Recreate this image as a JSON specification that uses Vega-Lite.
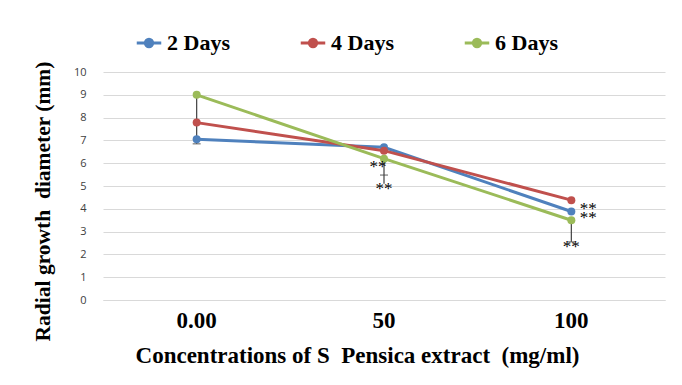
{
  "$schema": "https://vega.github.io/schema/vega-lite/v6.json",
  "width": 562,
  "height": 228,
  "autosize": {"type": "none"},
  "padding": {"left": 103, "top": 72, "right": 17, "bottom": 85},
  "background": "white",
  "config": {"view": {"stroke": null}, "font": "Liberation Serif"},
  "datasets": {
    "series": [
      {"conc": "0.00", "days": "2 Days", "val": 7.05},
      {"conc": "50", "days": "2 Days", "val": 6.7},
      {"conc": "100", "days": "2 Days", "val": 3.88},
      {"conc": "0.00", "days": "4 Days", "val": 7.78},
      {"conc": "50", "days": "4 Days", "val": 6.55},
      {"conc": "100", "days": "4 Days", "val": 4.38},
      {"conc": "0.00", "days": "6 Days", "val": 9.0},
      {"conc": "50", "days": "6 Days", "val": 6.2},
      {"conc": "100", "days": "6 Days", "val": 3.5}
    ],
    "bars": [
      {"conc": "0.00", "val": 6.85, "high": 9.0},
      {"conc": "50", "val": 5.1, "high": 6.2},
      {"conc": "100", "val": 2.55, "high": 3.5}
    ],
    "caps": [
      {"conc": "0.00", "val": 6.85},
      {"conc": "50", "val": 5.48},
      {"conc": "100", "val": 2.55}
    ],
    "stars": [
      {"conc": "50", "val": 5.05, "grp": "below"},
      {"conc": "100", "val": 2.5, "grp": "below"},
      {"conc": "50", "val": 6.02, "grp": "left"},
      {"conc": "100", "val": 4.17, "grp": "right"}
    ]
  },
  "encoding": {
    "x": {"field": "conc", "type": "ordinal", "sort": ["0.00", "50", "100"],
      "axis": {"title": "Concentrations of S\u00a0 Pensica extract\u00a0 (mg/ml)", "titleFont": "Liberation Serif", "titleFontSize": 23, "titleFontWeight": "bold", "titleColor": "black", "titlePadding": 12, "titleX": 254,
        "labelAngle": 0, "labelFont": "Liberation Serif", "labelFontSize": 23, "labelFontWeight": "bold", "labelColor": "black", "labelPadding": 9,
        "ticks": false, "domainColor": "#D9D9D9", "grid": false}},
    "y": {"field": "val", "type": "quantitative", "scale": {"domain": [0, 10]},
      "axis": {"title": "Radial growth\u00a0 diameter (mm)", "titleFont": "Liberation Serif", "titleFontSize": 21.5, "titleFontWeight": "bold", "titleColor": "black", "titlePadding": 19, "titleY": 129,
        "values": [0, 1, 2, 3, 4, 5, 6, 7, 8, 9, 10], "labelOverlap": false, "labelFont": "Open Sans", "labelFontSize": 11, "labelColor": "#404040", "labelPadding": 17,
        "domain": false, "ticks": false, "gridColor": "#D9D9D9"}}
  },
  "layer": [
    {
      "data": {"name": "bars"},
      "mark": {"type": "rule", "color": "#404040", "strokeWidth": 1.2},
      "encoding": {"y2": {"field": "high"}}
    },
    {
      "data": {"name": "caps"},
      "mark": {"type": "tick", "color": "#404040", "size": 8, "thickness": 1.2}
    },
    {
      "data": {"name": "series"},
      "mark": {"type": "line", "strokeWidth": 3},
      "encoding": {
        "color": {"field": "days", "type": "nominal",
          "scale": {"domain": ["2 Days", "4 Days", "6 Days"], "range": ["#4F81BD", "#C0504D", "#9BBB59"]},
          "legend": {"title": null, "orient": "none", "legendX": 32, "legendY": -43, "direction": "horizontal",
            "columnPadding": 64, "labelFont": "Liberation Serif", "labelFontSize": 22, "labelFontWeight": "bold", "labelColor": "black",
            "symbolType": "M-1,0H1M0.3,0A0.3,0.3 0 1 1 -0.3,0A0.3,0.3 0 1 1 0.3,0", "symbolSize": 600, "symbolStrokeWidth": 3,
            "labelOffset": 4,
            "encode": {"symbols": {"update": {"fill": {"scale": "color", "field": "value"}}}}}}
      }
    },
    {
      "data": {"name": "series"},
      "mark": {"type": "circle", "size": 64, "opacity": 1},
      "encoding": {
        "color": {"field": "days", "type": "nominal", "legend": null}
      }
    },
    {
      "data": {"name": "stars"},
      "transform": [{"filter": "datum.grp == 'below'"}],
      "mark": {"type": "text", "text": "**", "font": "Liberation Serif", "fontSize": 17, "color": "black", "baseline": "alphabetic", "dy": 9}
    },
    {
      "data": {"name": "stars"},
      "transform": [{"filter": "datum.grp == 'left'"}],
      "mark": {"type": "text", "text": "**", "font": "Liberation Serif", "fontSize": 17, "color": "black", "baseline": "alphabetic", "dy": 9, "dx": -6}
    },
    {
      "data": {"name": "stars"},
      "transform": [{"filter": "datum.grp == 'right'"}],
      "mark": {"type": "text", "text": ["**", "**"], "lineHeight": 9, "font": "Liberation Serif", "fontSize": 17, "color": "black", "baseline": "alphabetic", "dy": 9, "dx": 17}
    }
  ]
}
